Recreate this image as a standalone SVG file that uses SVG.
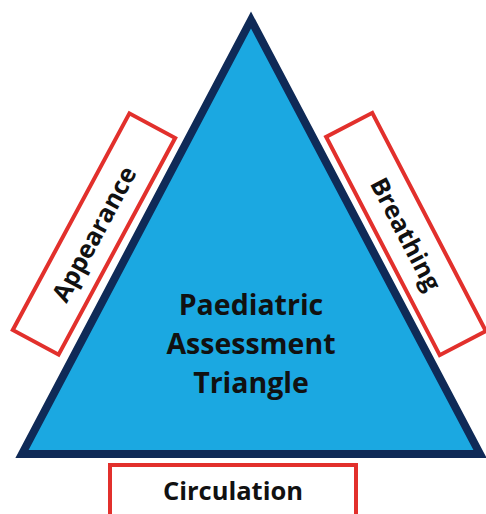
<svg xmlns="http://www.w3.org/2000/svg" width="486" height="514" viewBox="0 0 486 514">
<style>
.lbl{font-family:"Open Sans","DejaVu Sans",sans-serif;font-weight:700;fill:#111;text-anchor:middle}
.box{fill:#fff;stroke:#e2302c;stroke-width:4}
</style>
<rect width="486" height="514" fill="#fff"/>
<g id="triangle">
<polygon points="251,20 22,454 480,454" fill="#1ba8e1" stroke="#0f2a57" stroke-width="8" stroke-linejoin="miter"/>
<text class="lbl" x="251" y="315" font-size="28.5" fill="#141b24">Paediatric</text>
<text class="lbl" x="251" y="354" font-size="28.5">Assessment</text>
<text class="lbl" x="251" y="393" font-size="28.5">Triangle</text>
</g>
<g id="appearance" transform="translate(94,234) rotate(-61.7)">
<rect class="box" x="-123" y="-26" width="246" height="52"/>
<text class="lbl" x="0" y="9" font-size="25">Appearance</text>
</g>
<g id="breathing" transform="translate(406,234) rotate(62.5)">
<rect class="box" x="-123" y="-26" width="246" height="52"/>
<text class="lbl" x="0" y="9" font-size="25">Breathing</text>
</g>
<g id="circulation">
<rect class="box" x="110" y="465" width="246" height="60"/>
<text class="lbl" x="233" y="500" font-size="25.5">Circulation</text>
</g>
<g id="connectors"/>
</svg>
